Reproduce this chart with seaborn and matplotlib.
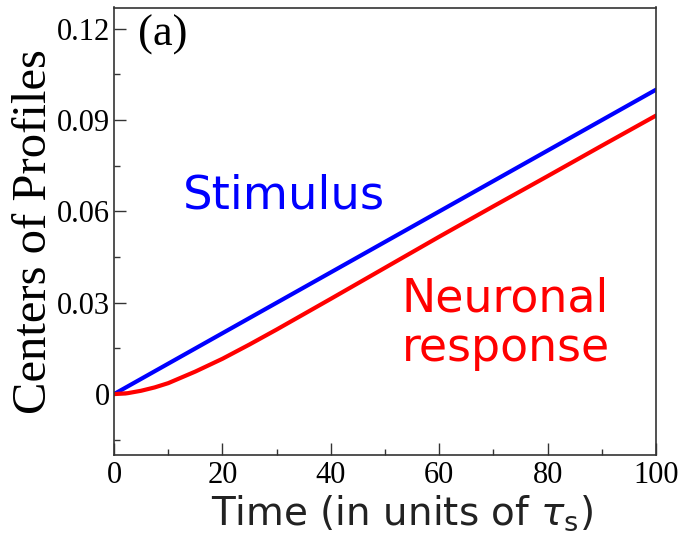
import matplotlib
matplotlib.use("Agg")
import numpy as np
import pandas as pd
import seaborn as sns
import matplotlib.pyplot as plt
from matplotlib.ticker import MultipleLocator, FixedLocator, FixedFormatter

# ---- data ----
time = [0, 2.5, 5, 7.5, 10, 15, 20, 25, 30, 40, 50, 60, 70, 80, 90, 100]
stimulus = [0.0, 0.0025, 0.005, 0.0075, 0.010, 0.015, 0.020, 0.025, 0.030,
            0.040, 0.050, 0.060, 0.070, 0.080, 0.090, 0.100]
response = [0.0, 0.0003, 0.0011, 0.0022, 0.0036, 0.0074, 0.0116, 0.0163, 0.0212,
            0.0313, 0.0415, 0.0517, 0.0617, 0.0716, 0.0816, 0.0915]
y_ticks = [0, 0.03, 0.06, 0.09, 0.12]
y_ticklabels = ["0", "0.03", "0.06", "0.09", "0.12"]
x_ticks = [0, 20, 40, 60, 80, 100]

df = pd.DataFrame({
    "time": time * 2,
    "value": stimulus + response,
    "series": ["Stimulus"] * len(time) + ["Neuronal response"] * len(time),
})

sns.set_style("ticks")
plt.rcParams["font.family"] = ["DejaVu Sans"]
plt.rcParams["mathtext.fontset"] = "dejavusans"

fig = plt.figure(figsize=(6.81, 5.40), dpi=100)
ax = fig.add_axes([114 / 681, 1 - 455 / 540, 542 / 681, 447.5 / 540])

sns.lineplot(data=df, x="time", y="value", hue="series",
             palette={"Stimulus": "#0000ff", "Neuronal response": "#ff0000"},
             linewidth=3.0, legend=False, ax=ax)

ax.set_xlim(0, 100)
ax.set_ylim(-0.02, 0.127)

serif = "Liberation Serif"
ax.xaxis.set_major_locator(FixedLocator(x_ticks))
ax.xaxis.set_minor_locator(MultipleLocator(10))
ax.yaxis.set_major_locator(FixedLocator(y_ticks))
ax.yaxis.set_major_formatter(FixedFormatter(y_ticklabels))
ax.yaxis.set_minor_locator(MultipleLocator(0.015))

ax.tick_params(axis="both", which="major", direction="in", length=8.5, width=1.0,
               color="#333333", labelsize=22, labelcolor="black", top=False, right=False)
ax.tick_params(axis="both", which="minor", direction="in", length=4.3, width=1.0,
               color="#333333", top=False, right=False)
ax.tick_params(axis="y", which="major", pad=3)
ax.tick_params(axis="x", which="major", pad=4)
for lab in ax.get_xticklabels() + ax.get_yticklabels():
    lab.set_fontfamily(serif)

for sp in ax.spines.values():
    sp.set_color("#333333")
    sp.set_linewidth(1.2)

ax.set_xlabel(r"Time (in units of $\tau_{\rm s}$)", fontsize=28, color="#222222")
ax.xaxis.set_label_coords(0.531, -0.085)
ax.set_ylabel("Centers of Profiles", fontsize=35, fontfamily=serif, color="black")
ax.yaxis.set_label_coords(-0.107, 0.5)

ax.text(12.7, 0.061, "Stimulus", color="#0000ff", fontsize=33.5, va="baseline", ha="left")
ax.text(53.1, 0.0273, "Neuronal", color="#ff0000", fontsize=33, va="baseline", ha="left")
ax.text(53.1, 0.0109, "response", color="#ff0000", fontsize=33, va="baseline", ha="left")
ax.text(4.4, 0.1145, "(a)", fontsize=32, fontfamily=serif, color="black",
        va="baseline", ha="left")

fig.savefig("out.png", dpi=100)
